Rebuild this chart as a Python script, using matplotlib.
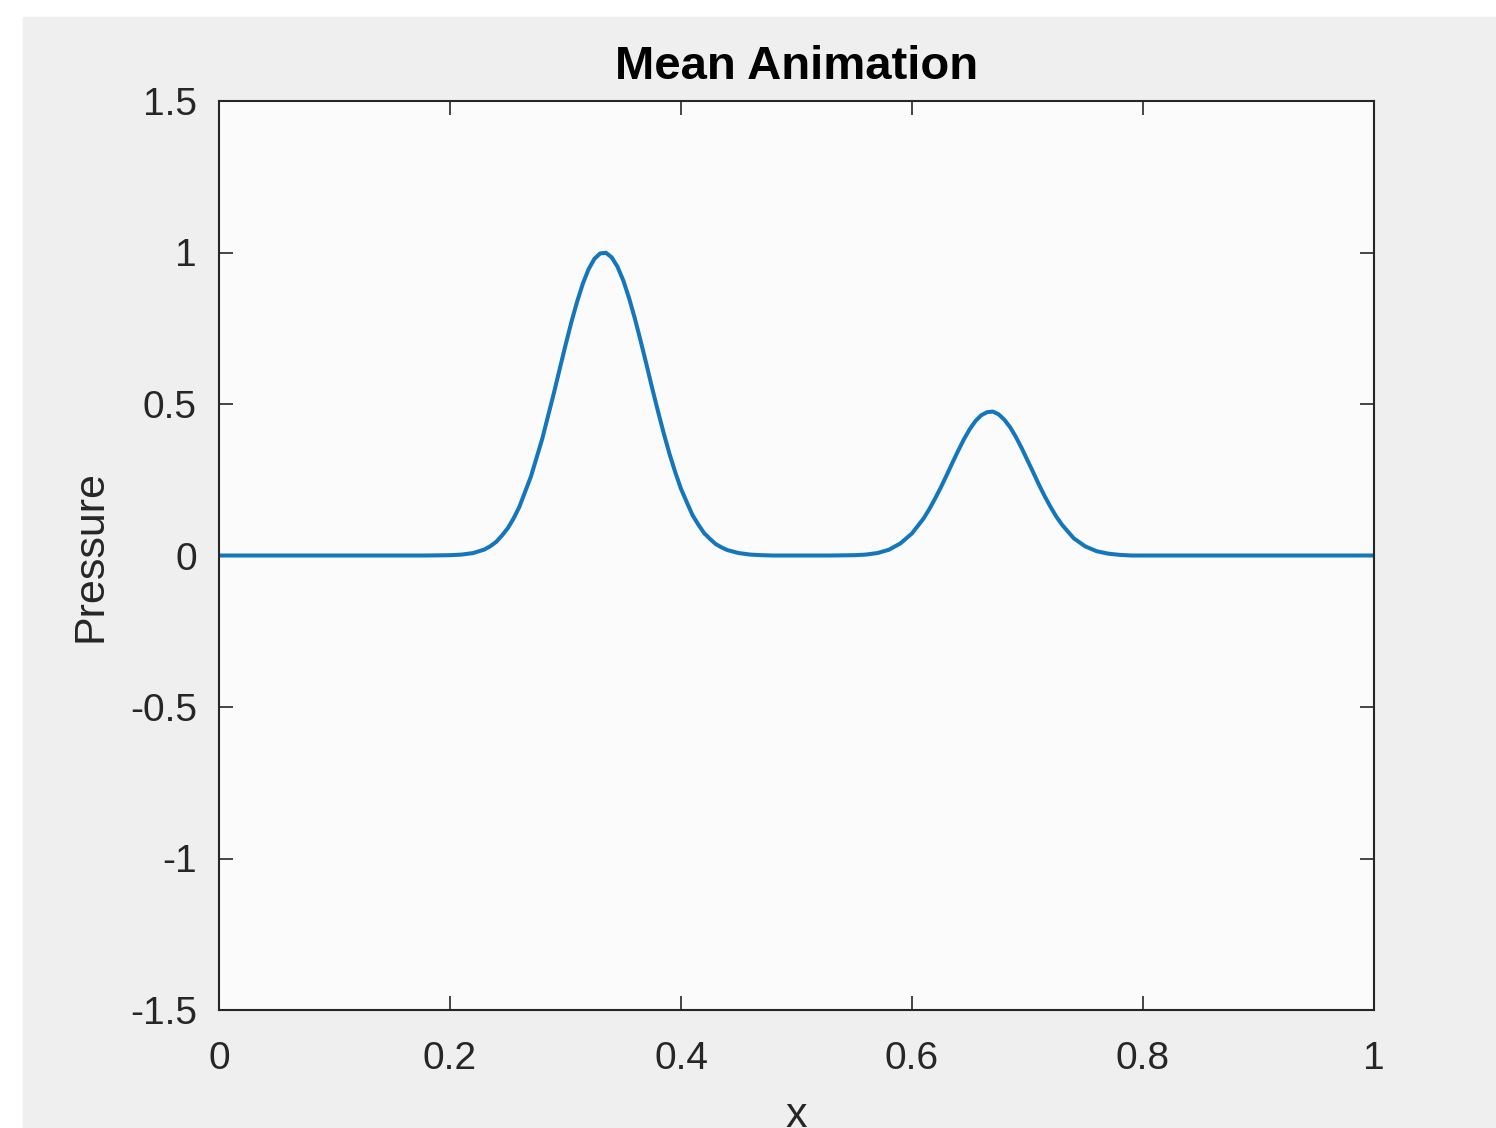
import matplotlib
matplotlib.use('Agg')
import matplotlib.pyplot as plt
import numpy as np

# Значения (давление, среднее)
x = [0.0, 0.10, 0.18, 0.20, 0.21, 0.22, 0.23, 0.235, 0.24, 0.245,
     0.25, 0.255, 0.26, 0.265, 0.27, 0.275, 0.28, 0.285, 0.29, 0.295,
     0.30, 0.305, 0.31, 0.315, 0.32, 0.325, 0.33, 0.335, 0.34, 0.345,
     0.35, 0.355, 0.36, 0.365, 0.37, 0.375, 0.38, 0.385, 0.39, 0.395,
     0.40, 0.405, 0.41, 0.415, 0.42, 0.425, 0.43, 0.435, 0.44, 0.45,
     0.46, 0.47, 0.48, 0.50, 0.53, 0.55, 0.56, 0.57, 0.58, 0.59,
     0.60, 0.61, 0.615, 0.62, 0.625, 0.63, 0.635, 0.64, 0.645, 0.65,
     0.655, 0.66, 0.665, 0.67, 0.675, 0.68, 0.685, 0.69, 0.695, 0.70,
     0.705, 0.71, 0.715, 0.72, 0.725, 0.73, 0.74, 0.75, 0.76, 0.77,
     0.78, 0.79, 0.81, 0.90, 1.0]
pressure = [0.0, 0.0, 0.0, 0.001, 0.003, 0.008, 0.02, 0.031, 0.045, 0.066,
            0.09, 0.122, 0.16, 0.21, 0.26, 0.323, 0.387, 0.462, 0.537, 0.616,
            0.694, 0.769, 0.837, 0.897, 0.945, 0.979, 0.997, 0.999, 0.984, 0.953,
            0.908, 0.850, 0.783, 0.709, 0.632, 0.553, 0.477, 0.404, 0.336, 0.275,
            0.22, 0.176, 0.133, 0.102, 0.074, 0.055, 0.038, 0.027, 0.018, 0.008,
            0.003, 0.001, 0.0, 0.0, 0.0, 0.001, 0.003, 0.008, 0.019, 0.04,
            0.073, 0.122, 0.153, 0.188, 0.225, 0.265, 0.306, 0.346, 0.384, 0.417,
            0.444, 0.463, 0.473, 0.475, 0.466, 0.448, 0.423, 0.391, 0.354, 0.314,
            0.274, 0.233, 0.195, 0.16, 0.128, 0.101, 0.057, 0.03, 0.014, 0.006,
            0.002, 0.0, 0.0, 0.0, 0.0]

xticks = [0, 0.2, 0.4, 0.6, 0.8, 1]
xticklabels = ['0', '0.2', '0.4', '0.6', '0.8', '1']
yticks = [-1.5, -1, -0.5, 0, 0.5, 1, 1.5]
yticklabels = ['-1.5', '-1', '-0.5', '0', '0.5', '1', '1.5']

plt.rcParams['font.family'] = ['Liberation Sans', 'DejaVu Sans']

W, H = 1496, 1128
fig = plt.figure(figsize=(W / 100, H / 100), dpi=100, facecolor='white')
# серый фон окна MATLAB
fig.patches.append(plt.Rectangle((23 / W, 0), 1 - 23 / W, 1 - 17 / H,
                                 transform=fig.transFigure, color='#efefef', zorder=-10))

ax = fig.add_axes([219 / W, 1 - 1010 / H, (1374 - 219) / W, (1010 - 101) / H])
ax.set_facecolor('#fbfbfb')
ax.plot(x, pressure, color='#1476bd', linewidth=2.9, solid_joinstyle='round')

ax.set_xlim(0, 1)
ax.set_ylim(-1.5, 1.5)
ax.set_xticks(xticks)
ax.set_xticklabels(xticklabels)
ax.set_yticks(yticks)
ax.set_yticklabels(yticklabels)

ax.tick_params(direction='in', length=10, width=1.2, color='#262626',
               labelcolor='#262626', labelsize=28, top=True, right=True)
ax.tick_params(axis='x', pad=22)
ax.tick_params(axis='y', pad=16)
for s in ax.spines.values():
    s.set_color('#262626')
    s.set_linewidth(1.5)

ax.set_title('Mean Animation', fontsize=34, fontweight='bold', pad=16)
ax.set_xlabel('x', fontsize=31, color='#262626', labelpad=14)
ax.set_ylabel('Pressure', fontsize=31, color='#262626', labelpad=14)

fig.savefig('out.png', dpi=100, facecolor=fig.get_facecolor())
